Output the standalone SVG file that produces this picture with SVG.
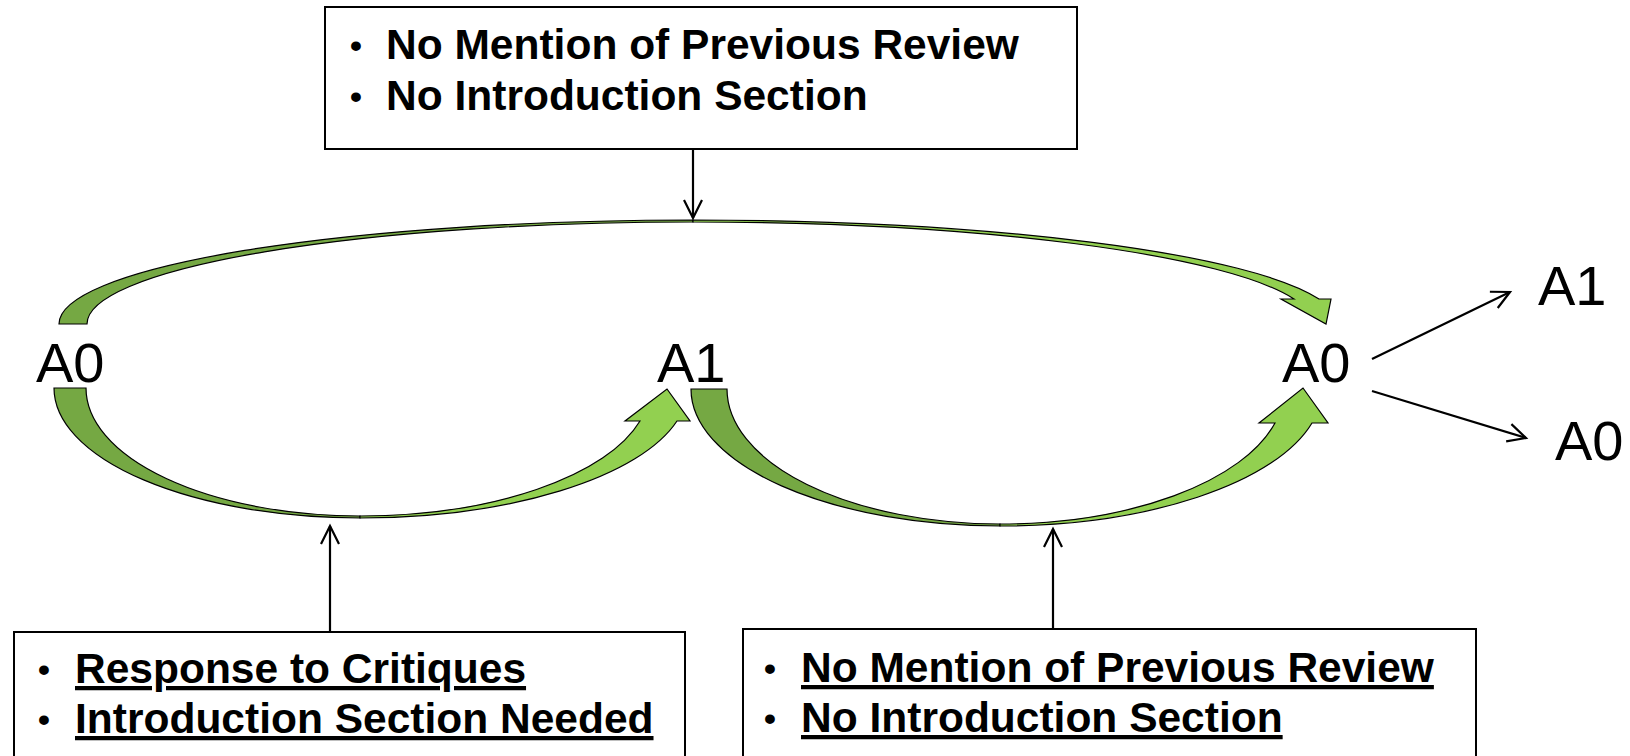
<svg xmlns="http://www.w3.org/2000/svg" width="1630" height="756" viewBox="0 0 1630 756">
<style>
.box{fill:#fff;stroke:#000;stroke-width:2}
.bt{font-family:"Liberation Sans",Arial,sans-serif;font-weight:bold;font-size:42.5px;fill:#000}
.bul{font-family:"Liberation Sans",Arial,sans-serif;font-weight:bold;font-size:34px;fill:#000}
.u{text-decoration:underline}
.lbl{font-family:"Liberation Sans",Arial,sans-serif;font-size:56px;fill:#000}
.dark{fill:#75A843;stroke:#000;stroke-width:1.2}
.light{fill:#92D050;stroke:#000;stroke-width:1.2}
.conn{fill:none;stroke:#000;stroke-width:2.2}
</style>
<defs>
<marker id="open" markerUnits="userSpaceOnUse" markerWidth="24" markerHeight="24" refX="20" refY="11" orient="auto">
<path d="M2,2 L20,11 L2,20" fill="none" stroke="#000" stroke-width="2.2"/>
</marker>
</defs>
<rect width="1630" height="756" fill="#fff"/>

<g id="curve-top">
<path class="dark" d="M59,324 A634,104 0 0 1 693,220 L693,222 A606,102 0 0 0 87,324 Z"/>
<path class="light" d="M693,220 A645,104 0 0 1 1319,299 L1331,299 L1326,324 L1281,299 L1294,299 A620,102 0 0 0 693,222 Z"/>
</g>
<g id="curve-left">
<path class="dark" d="M54,388 A306,130 0 0 0 360,518 L360,516 A274,128 0 0 1 86,388 Z"/>
<path class="light" d="M360,518 A328,130 0 0 0 677,421 L690,421 L667,389 L625,421 L640,421 A290,128 0 0 1 360,516 Z"/>
</g>
<g id="curve-right">
<path class="dark" d="M691,389 A309,137 0 0 0 1000,526 L1000,524 A273,135 0 0 1 727,389 Z"/>
<path class="light" d="M1000,526 A322,137 0 0 0 1312,423 L1328,423 L1303,388 L1259,423 L1275,423 A284,135 0 0 1 1000,524 Z"/>
</g>

<g id="connectors">
<line class="conn" x1="693" y1="149" x2="693" y2="218" marker-end="url(#open)"/>
<line class="conn" x1="330" y1="632" x2="330" y2="526" marker-end="url(#open)"/>
<line class="conn" x1="1053" y1="629" x2="1053" y2="529" marker-end="url(#open)"/>
<line class="conn" x1="1372" y1="359" x2="1510" y2="292" marker-end="url(#open)"/>
<line class="conn" x1="1372" y1="391" x2="1526" y2="438" marker-end="url(#open)"/>
</g>

<g id="node-top-box">
<rect class="box" x="325" y="7" width="752" height="142"/>
<text class="bul" x="356" y="57" text-anchor="middle">•</text>
<text class="bt" x="386" y="59">No Mention of Previous Review</text>
<text class="bul" x="356" y="108" text-anchor="middle">•</text>
<text class="bt" x="386" y="110">No Introduction Section</text>
</g>

<g id="node-bottom-left-box">
<rect class="box" x="14" y="632" width="671" height="140"/>
<text class="bul" x="44" y="681" text-anchor="middle">•</text>
<text class="bt u" x="75" y="683">Response to Critiques</text>
<text class="bul" x="44" y="731" text-anchor="middle">•</text>
<text class="bt u" x="75" y="733">Introduction Section Needed</text>
</g>

<g id="node-bottom-right-box">
<rect class="box" x="743" y="629" width="733" height="140"/>
<text class="bul" x="770" y="680" text-anchor="middle">•</text>
<text class="bt u" x="801" y="682">No Mention of Previous Review</text>
<text class="bul" x="770" y="730" text-anchor="middle">•</text>
<text class="bt u" x="801" y="732">No Introduction Section</text>
</g>

<g id="node-A0-left"><text class="lbl" x="36" y="382">A0</text></g>
<g id="node-A1-mid"><text class="lbl" x="657" y="382">A1</text></g>
<g id="node-A0-right"><text class="lbl" x="1282" y="382">A0</text></g>
<g id="node-A1-far"><text class="lbl" x="1538" y="305">A1</text></g>
<g id="node-A0-far"><text class="lbl" x="1555" y="460">A0</text></g>
</svg>
